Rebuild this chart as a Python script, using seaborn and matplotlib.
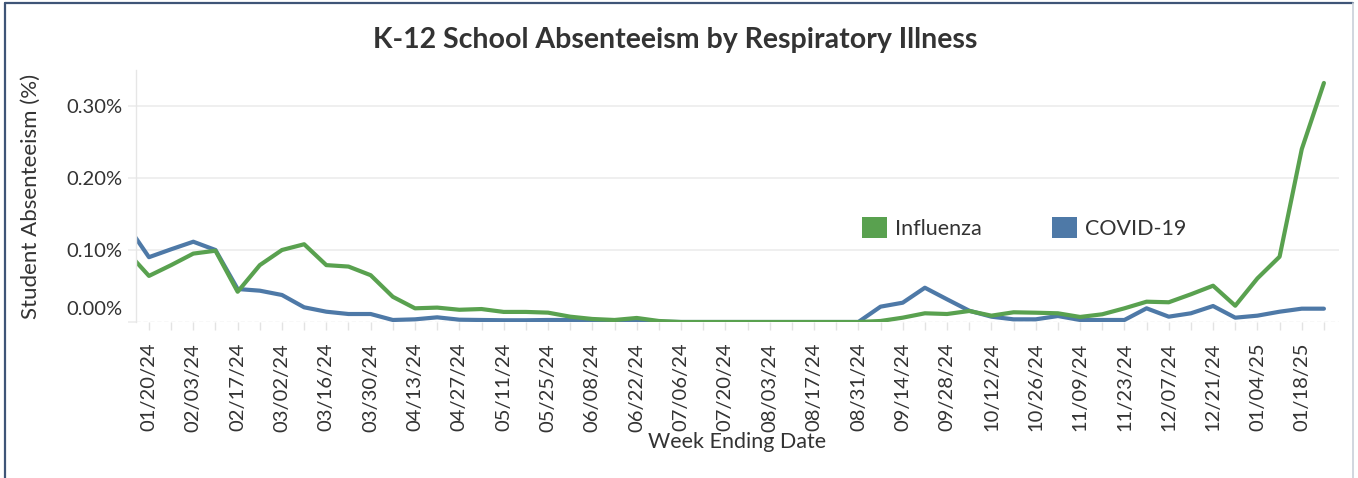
import matplotlib
matplotlib.use("Agg")
import matplotlib.pyplot as plt
import matplotlib.dates as mdates
from matplotlib.patches import Patch
from matplotlib.transforms import ScaledTranslation
import seaborn as sns
import pandas as pd
import numpy as np

# ---------------- data (percent) ----------------
first_week = "2024-01-13"
influenza = [0.098, 0.064, 0.079, 0.095, 0.099, 0.042, 0.079, 0.100, 0.108, 0.079,
             0.077, 0.065, 0.035, 0.019, 0.020, 0.017, 0.018, 0.014, 0.014, 0.013,
             0.0074, 0.0042, 0.0028, 0.0056, 0.0014, 0.0, 0.0, 0.0, 0.0, 0.0,
             0.0, 0.0, 0.0, 0.0, 0.0014, 0.006, 0.0121, 0.0111, 0.0153, 0.0088,
             0.0135, 0.0129, 0.0121, 0.0070, 0.0107, 0.019, 0.0282, 0.0274, 0.0385, 0.0504,
             0.0226, 0.0606, 0.0907, 0.240, 0.332]
covid = [0.135, 0.090, 0.101, 0.1115, 0.100, 0.0458, 0.0435, 0.0375, 0.0204, 0.0143,
         0.0111, 0.0111, 0.0028, 0.0037, 0.0065, 0.0032, 0.0028, 0.0024, 0.0024, 0.0028,
         0.0028, 0.0024, 0.0018, 0.0014, 0.0004, 0.0, 0.0, 0.0, 0.0, 0.0,
         0.0, 0.0, 0.0, 0.0, 0.0213, 0.0268, 0.0476, 0.0315, 0.0157, 0.0074,
         0.0037, 0.0037, 0.0083, 0.0028, 0.0028, 0.0028, 0.0190, 0.0074, 0.0121, 0.0222,
         0.0060, 0.0088, 0.0143, 0.0185, 0.0185]
series_names = ["Influenza", "COVID-19"]
series_colors = ["#59a14f", "#4e79a7"]
y_ticks = [0.0, 0.10, 0.20, 0.30]
first_label_week = "2024-01-20"

weeks = pd.date_range(first_week, periods=len(influenza), freq="7D")
df = pd.DataFrame({
    "week": np.concatenate([weeks, weeks]),
    "value": influenza + covid,
    "series": [series_names[0]] * len(weeks) + [series_names[1]] * len(weeks),
})

# ---------------- style ----------------
sns.set_theme(style="white")
plt.rcParams["font.family"] = ["Lato", "DejaVu Sans"]
text_color = "#333333"

W, H = 1358, 478
fig = plt.figure(figsize=(W / 100, H / 100), dpi=100)
ax = fig.add_axes([136 / W, 1 - 322 / H, (1339 - 136) / W, (322 - 70) / H])

sns.lineplot(data=df, x="week", y="value", hue="series",
             palette=dict(zip(series_names, series_colors)),
             hue_order=series_names[::-1],
             linewidth=3.0, ax=ax, legend=False)

# grid
for yv in y_ticks[1:]:
    ax.axhline(yv, color="#ececec", lw=1.2, zorder=0)
ax.axhline(0, color="#dcdcdc", lw=1.0, ls=(0, (3, 2)), zorder=0)

for s in ["top", "right", "bottom"]:
    ax.spines[s].set_visible(False)
ax.spines["left"].set_color("#e6e6e6")
ax.spines["left"].set_linewidth(1.0)

# x ticks
major = pd.date_range(first_label_week, weeks[-1], freq="14D")
ax.set_xticks(major)
ax.xaxis.set_major_formatter(mdates.DateFormatter("%m/%d/%y"))
ax.set_xticks(weeks[1:], minor=True)
ax.tick_params(axis="x", which="both", length=6, color="#e3e3e3", width=1.0,
               bottom=True, pad=9, labelsize=14.5, labelcolor=text_color,
               labelrotation=90)

week = pd.Timedelta(days=7)
ax.set_xlim(weeks[0] + 0.415 * week, weeks[-1] + 0.68 * week)
ax.set_ylim(0, 0.35)

# y ticks
ax.set_yticks(y_ticks)
ax.set_yticklabels([f"{v:.2f}%" for v in y_ticks])
ax.tick_params(axis="y", length=6, color="#ececec", width=1.2, left=True, pad=4,
               labelsize=14.5, labelcolor=text_color)
lab0 = ax.get_yticklabels()[0]
lab0.set_transform(lab0.get_transform() + ScaledTranslation(0, 14 / 100, fig.dpi_scale_trans))

ax.set_xlabel("Week Ending Date", fontsize=15.5, color=text_color, labelpad=0)
ax.set_ylabel("Student Absenteeism (%)", fontsize=16, color=text_color, labelpad=18)

fig.text(675 / W, 1 - 40 / H, "K-12 School Absenteeism by Respiratory Illness",
         ha="center", va="center", fontsize=20.5, fontweight="bold", color=text_color)

# legend
handles = [Patch(facecolor=c, edgecolor="none", label=n) for n, c in zip(series_names, series_colors)]
leg = ax.legend(handles=handles, ncol=2, frameon=False, loc="center left",
                bbox_to_anchor=(843 / W, 1 - 228 / H), bbox_transform=fig.transFigure,
                fontsize=15.5, handlelength=1.15, handleheight=1.15, handletextpad=0.35,
                columnspacing=3.3, labelcolor=text_color)

# outer frame
fig.add_artist(plt.Line2D([5 / W, 5 / W], [0, 1 - 3 / H], color="#3f5577", lw=1.6, transform=fig.transFigure))
fig.add_artist(plt.Line2D([5 / W, 1353 / W], [1 - 3 / H, 1 - 3 / H], color="#3f5577", lw=1.6, transform=fig.transFigure))
fig.add_artist(plt.Line2D([1353 / W, 1353 / W], [0, 1 - 3 / H], color="#c9cfd9", lw=1.2, transform=fig.transFigure))

fig.savefig("out.png", dpi=100, facecolor="white")
